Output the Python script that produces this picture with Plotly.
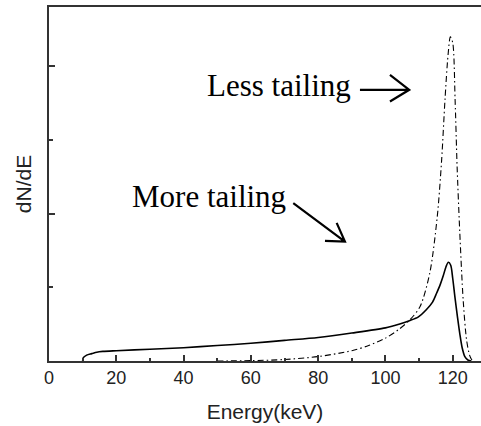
import plotly.graph_objects as go

# Energy grid (keV) and spectral density for the two detector responses
energy_more = [10, 10.2, 11.2, 12.7, 14.2, 16, 20, 30, 40, 50, 60, 70, 80, 90, 100, 104,
               107.3, 109.8, 112.2, 114, 115.2, 116.3, 117.2, 118, 118.7, 119.4, 120.0,
               120.7, 121.4, 122.1, 122.8, 123.6, 124.6, 125.5]
dnde_more = [0.0, 0.045, 0.08, 0.10, 0.12, 0.13, 0.14, 0.16, 0.18, 0.21, 0.24, 0.28, 0.32,
             0.38, 0.45, 0.50, 0.55, 0.60, 0.70, 0.80, 0.92, 1.04, 1.16, 1.28, 1.34, 1.30,
             1.12, 0.85, 0.60, 0.37, 0.18, 0.06, 0.01, 0.0]

energy_less = [50, 60, 70, 80, 90, 95, 100, 104, 107.3, 110.3, 113.2, 115.4, 116.7, 117.7,
               118.6, 119.3, 120.0, 120.7, 121.3, 122.1, 123.1, 124.1, 125.0, 125.6, 126]
dnde_less = [0.0, 0.005, 0.02, 0.06, 0.14, 0.21, 0.31, 0.43, 0.56, 0.74, 1.2, 1.96, 2.73,
             3.55, 4.15, 4.40, 4.32, 3.55, 2.64, 1.74, 0.83, 0.29, 0.08, 0.02, 0.0]

x_ticks = [0, 20, 40, 60, 80, 100, 120]

fig = go.Figure()
fig.add_trace(go.Scatter(x=energy_less, y=dnde_less, mode="lines",
                         line=dict(color="black", width=1.1, dash="6px,3px,1.5px,3px",
                                   shape="spline", smoothing=0.8),
                         showlegend=False))
fig.add_trace(go.Scatter(x=energy_more, y=dnde_more, mode="lines",
                         line=dict(color="black", width=1.6, shape="spline", smoothing=0.8),
                         showlegend=False))

serif = dict(family="Liberation Serif, Times New Roman, serif", size=31, color="black")
fig.add_annotation(x=90.3, y=3.74, text="Less tailing", showarrow=False,
                   xanchor="right", yanchor="middle", font=serif)
fig.add_annotation(x=71.0, y=2.24, text="More tailing", showarrow=False,
                   xanchor="right", yanchor="middle", font=serif)


def open_arrow(tail, tip, arm1, arm2):
    """Shaft plus an open V head, in data coordinates."""
    path = (f"M {tail[0]},{tail[1]} L {tip[0]},{tip[1]} "
            f"M {arm1[0]},{arm1[1]} L {tip[0]},{tip[1]} L {arm2[0]},{arm2[1]}")
    fig.add_shape(type="path", path=path, xref="x", yref="y",
                  line=dict(color="black", width=2.2))


open_arrow((92.42, 3.682), (107.07, 3.682), (101.34, 3.886), (101.34, 3.523))
open_arrow((72.60, 2.143), (87.96, 1.621), (85.50, 1.875), (82.02, 1.630))

tick_font = dict(family="Liberation Sans, Arial, sans-serif", size=18, color="#222")
title_font = dict(family="Liberation Sans, Arial, sans-serif", size=21, color="#222")
fig.update_xaxes(range=[0, 128.4], tickvals=x_ticks, ticks="inside", ticklen=6,
                 tickwidth=1.5, tickcolor="#333",
                 minor=dict(dtick=10, ticks="inside", ticklen=3, tickcolor="#333", tickwidth=1.5),
                 showline=True, linecolor="#333", linewidth=1.5, mirror=True,
                 showgrid=False, zeroline=False, tickfont=tick_font,
                 title=dict(text="Energy(keV)", font=title_font, standoff=17))
fig.update_yaxes(range=[0, 4.806], tickvals=[2, 4], ticks="inside", ticklen=6,
                 tickwidth=1.5, tickcolor="#333", showticklabels=False,
                 minor=dict(tickvals=[1, 3], ticks="inside", ticklen=4, tickcolor="#333", tickwidth=1.5),
                 showline=True, linecolor="#333", linewidth=1.5,
                 showgrid=False, zeroline=False,
                 title=dict(text="dN/dE", font=title_font, standoff=10))
fig.update_layout(width=481, height=426, margin=dict(l=49, r=0, t=7, b=65),
                  plot_bgcolor="white", paper_bgcolor="white")
fig.write_html("out.html")
